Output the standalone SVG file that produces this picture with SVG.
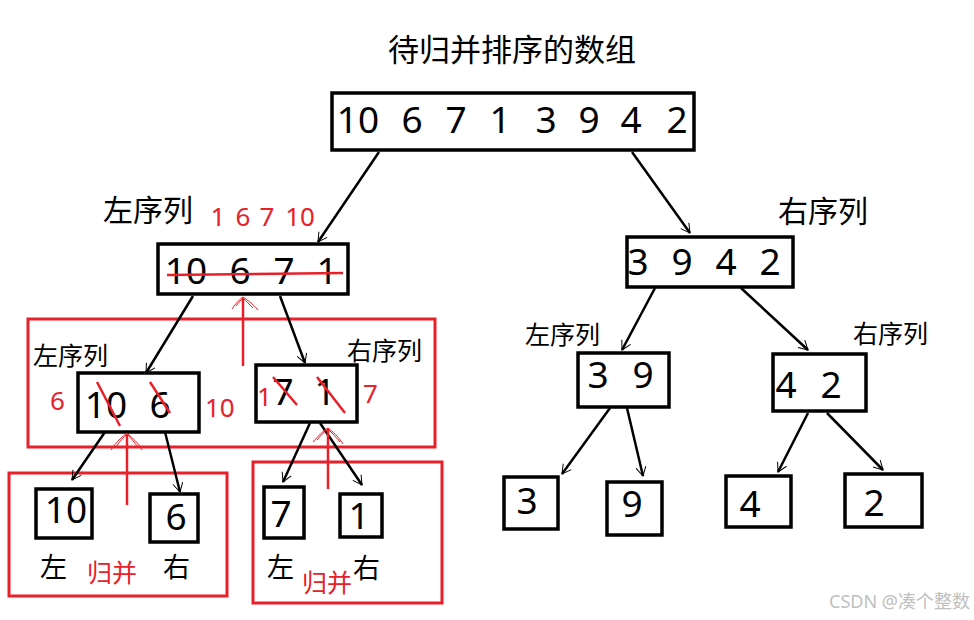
<svg xmlns="http://www.w3.org/2000/svg" width="974" height="620" viewBox="0 0 974 620">
<style>
.box{fill:#fff;stroke:#000;stroke-width:3.5}
.num{font-family:"Noto Sans","DejaVu Sans",sans-serif;font-size:37px;fill:#000;text-anchor:middle}
.cjk{font-family:"Noto Sans CJK SC","Noto Sans",sans-serif;fill:#000}
.red{fill:#e8202a}
.rnum{font-family:"Noto Sans","DejaVu Sans",sans-serif;fill:#e8202a}
.rbox{fill:none;stroke:#e8202a;stroke-width:3}
.conn{stroke:#000;stroke-width:2.5;fill:none;marker-end:url(#ah)}
.rl{stroke:#e8202a;stroke-width:2.5;fill:none}
.rh{stroke:#e8202a;stroke-width:1;fill:none}
</style>
<defs>
<marker id="ah" markerWidth="14" markerHeight="14" refX="12" refY="7" orient="auto" markerUnits="userSpaceOnUse">
<path d="M3,2 L12,7 L3,12" fill="none" stroke="#000" stroke-width="1"/>
</marker>
</defs>
<rect width="974" height="620" fill="#fff"/>

<text class="cjk" x="512" y="61" font-size="31" text-anchor="middle">待归并排序的数组</text>

<g id="red-frames">
<rect class="rbox" x="28" y="319" width="407" height="128"/>
<rect class="rbox" x="9" y="473" width="218" height="123"/>
<rect class="rbox" x="253" y="462" width="189" height="141"/>
</g>

<g id="connectors">
<line class="conn" x1="379" y1="152" x2="318" y2="242"/>
<line class="conn" x1="632" y1="152" x2="690" y2="233"/>
<line class="conn" x1="193" y1="296" x2="146" y2="373"/>
<line class="conn" x1="280" y1="296" x2="305" y2="363"/>
<line class="conn" x1="105" y1="432" x2="72" y2="480"/>
<line class="conn" x1="165" y1="432" x2="180" y2="492"/>
<line class="conn" x1="310" y1="423" x2="283" y2="482"/>
<line class="conn" x1="320" y1="423" x2="362" y2="485"/>
<line class="conn" x1="655" y1="288" x2="622" y2="350"/>
<line class="conn" x1="741" y1="288" x2="808" y2="350"/>
<line class="conn" x1="610" y1="408" x2="562" y2="474"/>
<line class="conn" x1="627" y1="408" x2="643" y2="476"/>
<line class="conn" x1="808" y1="413" x2="778" y2="472"/>
<line class="conn" x1="827" y1="413" x2="883" y2="470"/>
</g>

<g id="node-root">
<rect class="box" x="332" y="93" width="362" height="57"/>
<text class="num" y="133"><tspan x="358">10</tspan><tspan x="412">6</tspan><tspan x="456">7</tspan><tspan x="500">1</tspan><tspan x="546">3</tspan><tspan x="589">9</tspan><tspan x="631">4</tspan><tspan x="677">2</tspan></text>
</g>

<g id="node-L">
<text class="cjk" x="103" y="221" font-size="30">左序列</text>
<rect class="box" x="158" y="244" width="190" height="50"/>
<text class="num" y="284"><tspan x="186">10</tspan><tspan x="240">6</tspan><tspan x="284">7</tspan><tspan x="327">1</tspan></text>
</g>

<g id="node-R">
<text class="cjk" x="778" y="222" font-size="30">右序列</text>
<rect class="box" x="627" y="237" width="166" height="50"/>
<text class="num" y="275"><tspan x="638">3</tspan><tspan x="682">9</tspan><tspan x="726">4</tspan><tspan x="770">2</tspan></text>
</g>

<g id="node-LL">
<text class="cjk" x="33" y="365" font-size="25">左序列</text>
<rect class="box" x="78" y="373" width="121" height="59"/>
<text class="num" y="418"><tspan x="106">10</tspan><tspan x="160">6</tspan></text>
</g>

<g id="node-LR">
<text class="cjk" x="347" y="360" font-size="25">右序列</text>
<rect class="box" x="256" y="365" width="101" height="57"/>
<text class="num" y="405"><tspan x="283">7</tspan><tspan x="325">1</tspan></text>
</g>

<g id="node-RL">
<text class="cjk" x="525" y="344" font-size="25">左序列</text>
<rect class="box" x="578" y="353" width="91" height="54"/>
<text class="num" y="388"><tspan x="598">3</tspan><tspan x="643">9</tspan></text>
</g>

<g id="node-RR">
<text class="cjk" x="853" y="343" font-size="25">右序列</text>
<rect class="box" x="773" y="354" width="93" height="57"/>
<text class="num" y="398"><tspan x="786">4</tspan><tspan x="831">2</tspan></text>
</g>

<g id="leaf-10">
<rect class="box" x="36" y="489" width="56" height="49"/>
<text class="num" x="66" y="523">10</text>
<text class="cjk" x="40" y="577" font-size="27">左</text>
</g>
<g id="leaf-6">
<rect class="box" x="150" y="494" width="48" height="48"/>
<text class="num" x="176" y="530">6</text>
<text class="cjk" x="163" y="577" font-size="27">右</text>
</g>
<g id="leaf-7">
<rect class="box" x="264" y="487" width="40" height="51"/>
<text class="num" x="281" y="527">7</text>
<text class="cjk" x="267" y="577" font-size="27">左</text>
</g>
<g id="leaf-1">
<rect class="box" x="340" y="494" width="42" height="43"/>
<text class="num" x="359" y="529">1</text>
<text class="cjk" x="353" y="578" font-size="27">右</text>
</g>
<g id="leaf-3">
<rect class="box" x="504" y="477" width="54" height="52"/>
<text class="num" x="527" y="514">3</text>
</g>
<g id="leaf-9">
<rect class="box" x="607" y="482" width="55" height="53"/>
<text class="num" x="632" y="517">9</text>
</g>
<g id="leaf-4">
<rect class="box" x="726" y="476" width="65" height="51"/>
<text class="num" x="750" y="517">4</text>
</g>
<g id="leaf-2">
<rect class="box" x="845" y="474" width="77" height="53"/>
<text class="num" x="874" y="516">2</text>
</g>

<g id="red-annotations">
<text class="rnum" y="226" font-size="26" text-anchor="middle"><tspan x="218">1</tspan><tspan x="243">6</tspan><tspan x="267">7</tspan><tspan x="300">10</tspan></text>
<line class="rl" x1="167" y1="275" x2="343" y2="273"/>
<line class="rl" x1="243" y1="366" x2="243" y2="298"/>
<path class="rh" d="M232,309 C236,303 240,299 243,297 C247,300 252,303 258,310"/>
<path class="rh" d="M236,306 C239,302 241,300 243,298 C246,301 249,304 253,308"/>
<text class="rnum" x="50" y="410" font-size="26">6</text>
<text class="rnum" x="205" y="417" font-size="26">10</text>
<text class="rnum" x="257" y="406" font-size="26">1</text>
<text class="rnum" x="363" y="403" font-size="26">7</text>
<line class="rl" x1="97" y1="382" x2="120" y2="426"/>
<line class="rl" x1="150" y1="382" x2="170" y2="413"/>
<line class="rl" x1="273" y1="377" x2="297" y2="405"/>
<line class="rl" x1="317" y1="377" x2="345" y2="413"/>
<line class="rl" x1="127" y1="505" x2="127" y2="434"/>
<path class="rh" d="M111,450 C116,442 122,437 127,433 C132,438 138,442 142,450"/>
<path class="rh" d="M116,447 C120,441 124,437 127,434 C131,438 134,442 138,447"/>
<line class="rl" x1="328" y1="489" x2="328" y2="428"/>
<path class="rh" d="M313,442 C318,436 323,431 328,428 C333,432 338,436 343,444"/>
<path class="rh" d="M317,440 C321,435 325,431 328,429 C332,433 336,437 340,442"/>
<text class="cjk red" x="87" y="582" font-size="25">归并</text>
<text class="cjk red" x="302" y="592" font-size="25">归并</text>
</g>

<text x="970" y="608" font-family="Noto Sans, Noto Sans CJK SC, sans-serif" font-size="18" fill="#c0c0c0" text-anchor="end">CSDN @凑个整数</text>
</svg>
